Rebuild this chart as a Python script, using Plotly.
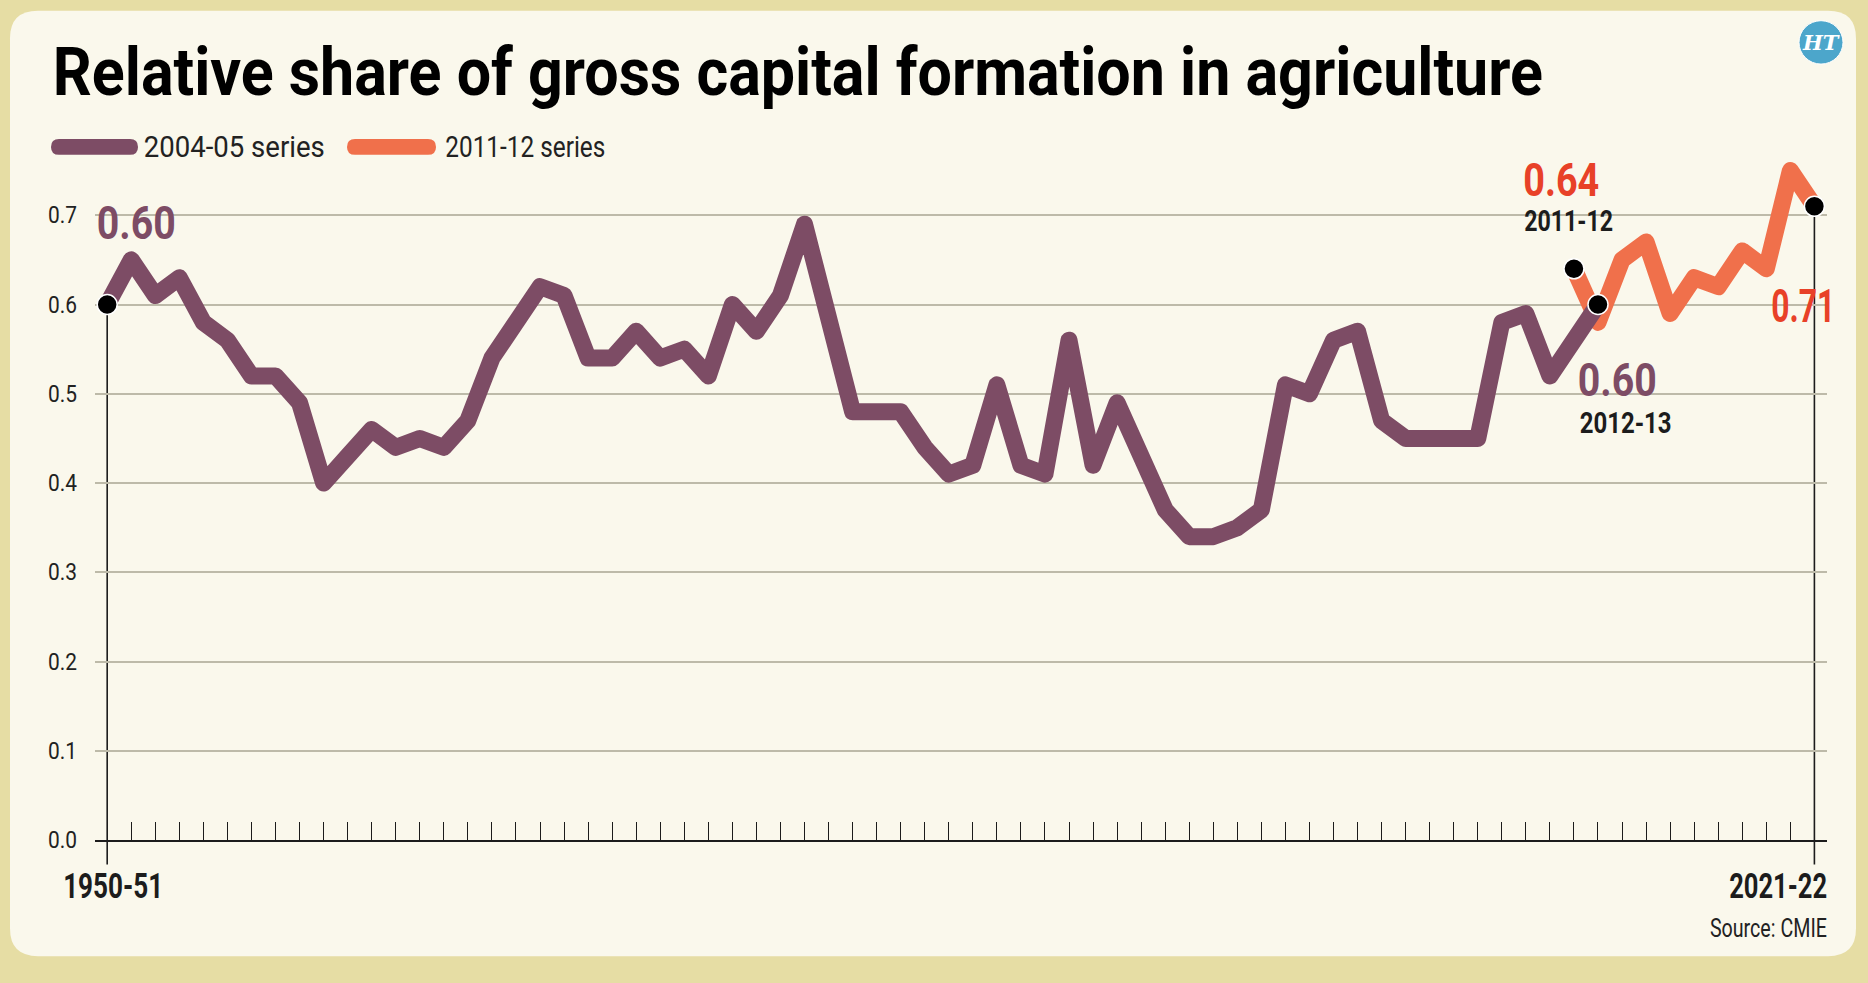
import json
import plotly.graph_objects as go

W, H = 1868, 983

# ---------------- data ----------------
years = [f"{y}-{str(y + 1)[-2:]}" for y in range(1950, 2022)]

# 2004-05 series: 1950-51 .. 2012-13
series_0405 = [0.60, 0.65, 0.61, 0.63, 0.58, 0.56, 0.52, 0.52, 0.49, 0.40,
               0.43, 0.46, 0.44, 0.45, 0.44, 0.47, 0.54, 0.58, 0.62, 0.61,
               0.54, 0.54, 0.57, 0.54, 0.55, 0.52, 0.60, 0.57, 0.61, 0.69,
               0.59, 0.48, 0.48, 0.48, 0.44, 0.41, 0.42, 0.51, 0.42, 0.41,
               0.56, 0.42, 0.49, 0.43, 0.37, 0.34, 0.34, 0.35, 0.37, 0.51,
               0.50, 0.56, 0.57, 0.47, 0.45, 0.45, 0.45, 0.45, 0.58, 0.59,
               0.52, 0.56, 0.60]
years_0405 = years[:len(series_0405)]

# 2011-12 series: 2011-12 .. 2021-22
series_1112 = [0.64, 0.58, 0.65, 0.67, 0.59, 0.63, 0.62, 0.66, 0.64, 0.75, 0.71]
years_1112 = years[-len(series_1112):]

y_ticks = [0.0, 0.1, 0.2, 0.3, 0.4, 0.5, 0.6, 0.7]

# ---------------- style ----------------
PURPLE = "#7D4C65"
ORANGE = "#F0704B"
RED = "#E84128"
INK = "#1c1c1c"
TAN = "#E6DDA4"
CREAM = "#FAF8EC"
GRID = "#BDBAA9"
FONT = "Roboto, Liberation Sans, sans-serif"


def px(x):
    return x / W


def py(y):
    return 1 - y / H


X_DOM = [px(95), px(1827)]
X_RANGE = [-0.507, 71.524]
Y_DOM = [py(852.3), py(140)]
Y_RANGE = [0, 0.7865]


def y_paper(v):
    return Y_DOM[0] + (v - Y_RANGE[0]) / (Y_RANGE[1] - Y_RANGE[0]) * (Y_DOM[1] - Y_DOM[0])


fig = go.Figure()

fig.add_trace(go.Scatter(
    x=years_1112, y=series_1112, mode="lines", name="2011-12 series",
    line=dict(color=ORANGE, width=17), hoverinfo="skip", showlegend=False))
fig.add_trace(go.Scatter(
    x=years_0405, y=series_0405, mode="lines", name="2004-05 series",
    line=dict(color=PURPLE, width=17), hoverinfo="skip", showlegend=False))

dot_x = [years_0405[0], years_0405[-1], years_1112[0], years_1112[-1]]
dot_y = [series_0405[0], series_0405[-1], series_1112[0], series_1112[-1]]
fig.add_trace(go.Scatter(
    x=dot_x, y=dot_y, mode="markers", cliponaxis=False, showlegend=False,
    marker=dict(size=20, color="#000000", line=dict(color="#ffffff", width=1.5)),
    hoverinfo="skip"))

shapes = []


def rounded_rect(x0, y0, x1, y1, r):
    X0, X1 = px(x0), px(x1)
    Y0, Y1 = py(y0), py(y1)
    rx, ry = r / W, r / H
    return (f"M {X0 + rx},{Y0} L {X1 - rx},{Y0} Q {X1},{Y0} {X1},{Y0 - ry} "
            f"L {X1},{Y1 + ry} Q {X1},{Y1} {X1 - rx},{Y1} L {X0 + rx},{Y1} "
            f"Q {X0},{Y1} {X0},{Y1 + ry} L {X0},{Y0 - ry} Q {X0},{Y0} {X0 + rx},{Y0} Z")


# cream panel
shapes.append(dict(type="path", xref="paper", yref="paper", layer="below",
                   path=rounded_rect(10, 11, 1856, 970, 28),
                   fillcolor=CREAM, line=dict(width=0)))


def pill(x0, x1, yc, h, color):
    return dict(type="path", xref="paper", yref="paper", layer="above",
                path=rounded_rect(x0, yc - h / 2, x1, yc + h / 2, h / 2),
                fillcolor=color, line=dict(width=0))


shapes.append(pill(51, 138, 149, 16, PURPLE))
shapes.append(pill(347, 436, 149, 16, ORANGE))

# leader lines at start and end
for xv, yv in [(years_0405[0], series_0405[0]), (years_1112[-1], series_1112[-1])]:
    shapes.append(dict(type="line", xref="x", yref="paper", layer="below",
                       x0=xv, x1=xv, y0=py(877), y1=y_paper(yv),
                       line=dict(color=INK, width=1.6)))

# HT logo circle
shapes.append(dict(type="circle", xref="paper", yref="paper",
                   x0=px(1799), x1=px(1843), y0=py(65), y1=py(21),
                   fillcolor="#4CA6CB", line=dict(color="#ffffff", width=1)))

annotations = []
fit = {}   # annotation index -> rendered text width (px), to mimic the condensed face


def note(text, x, y, size, color, width, xshift=0, yshift=0, bold=True):
    fit[len(annotations)] = width
    annotations.append(dict(text=text, x=x, y=y, xref="x", yref="y", showarrow=False,
                            xanchor="center", yanchor="middle", xshift=xshift, yshift=yshift,
                            font=dict(family=FONT, size=size, color=color,
                                      weight="bold" if bold else "normal")))


def paper_text(text, x, y, size, color, width=None, bold=False, family=FONT):
    if width:
        fit[len(annotations)] = width
    annotations.append(dict(text=text, x=px(x), y=py(y), xref="paper", yref="paper",
                            showarrow=False, xanchor="center", yanchor="middle",
                            font=dict(family=family, size=size, color=color,
                                      weight="bold" if bold else "normal")))


note(f"{series_0405[0]:.2f}", years_0405[0], series_0405[0], 46, PURPLE, 79, xshift=29, yshift=82)
note(f"{series_1112[0]:.2f}", years_1112[0], series_1112[0], 46, RED, 76, xshift=-12, yshift=89)
note(years_1112[0], years_1112[0], series_1112[0], 29, INK, 89, xshift=-5, yshift=48)
note(f"{series_0405[-1]:.2f}", years_0405[-1], series_0405[-1], 46, PURPLE, 79, xshift=20, yshift=-75)
note(years_0405[-1], years_0405[-1], series_0405[-1], 29, INK, 92, xshift=28, yshift=-118)
note(f"{series_1112[-1]:.2f}", years_1112[-1], series_1112[-1], 46, RED, 64, xshift=-11, yshift=-100)

paper_text("Relative share of gross capital formation in agriculture", 798, 74, 66, "#000000",
           width=1490, bold=True)
paper_text("2004-05 series", 234, 149, 29, "#222222", width=181)
paper_text("2011-12 series", 525, 149, 29, "#222222", width=160)
paper_text(years[0], 112.5, 899, 35, INK, width=100, bold=True)
paper_text(years[-1], 1778, 899, 35, INK, width=98, bold=True)
paper_text("Source: CMIE", 1768.5, 941, 26, "#222222", width=117)
paper_text("<i>HT</i>", 1821, 43, 21, "#ffffff", bold=True, family="DejaVu Serif, serif")

fig.update_layout(
    width=W, height=H,
    margin=dict(l=0, r=0, t=0, b=0),
    paper_bgcolor=TAN,
    plot_bgcolor="rgba(0,0,0,0)",
    showlegend=False,
    shapes=shapes,
    annotations=annotations,
    xaxis=dict(type="category", categoryorder="array", categoryarray=years,
               range=X_RANGE, domain=X_DOM, showgrid=False, zeroline=False,
               showline=True, linecolor=INK, linewidth=2,
               tickmode="array", tickvals=years, ticks="inside", ticklen=18,
               tickwidth=1.2, tickcolor=INK, showticklabels=False, fixedrange=True),
    yaxis=dict(range=Y_RANGE, domain=Y_DOM, tickmode="array", tickvals=y_ticks,
               tickformat=".1f", showgrid=True, gridcolor=GRID, gridwidth=1.6,
               zeroline=False, showline=False, ticks="", ticklabelstandoff=17,
               tickfont=dict(family=FONT, size=23, color="#222222"), fixedrange=True),
)

post = """
var gd = document.querySelector('.js-plotly-plot');
var fit = %s;
gd.querySelectorAll('.scatterlayer .js-line').forEach(function(p){
  p.style.strokeLinejoin = 'round'; p.style.strokeLinecap = 'round';
});
Object.keys(fit).forEach(function(k){
  var t = gd.querySelector('g.annotation[data-index="' + k + '"] text.annotation-text');
  if (t) { t.setAttribute('textLength', fit[k]); t.setAttribute('lengthAdjust', 'spacingAndGlyphs'); }
});
gd.querySelectorAll('.ytick text').forEach(function(t){
  t.setAttribute('textLength', 29); t.setAttribute('lengthAdjust', 'spacingAndGlyphs');
});
""" % json.dumps(fit)

fig.write_html("out.html", config={"displayModeBar": False}, post_script=post)
